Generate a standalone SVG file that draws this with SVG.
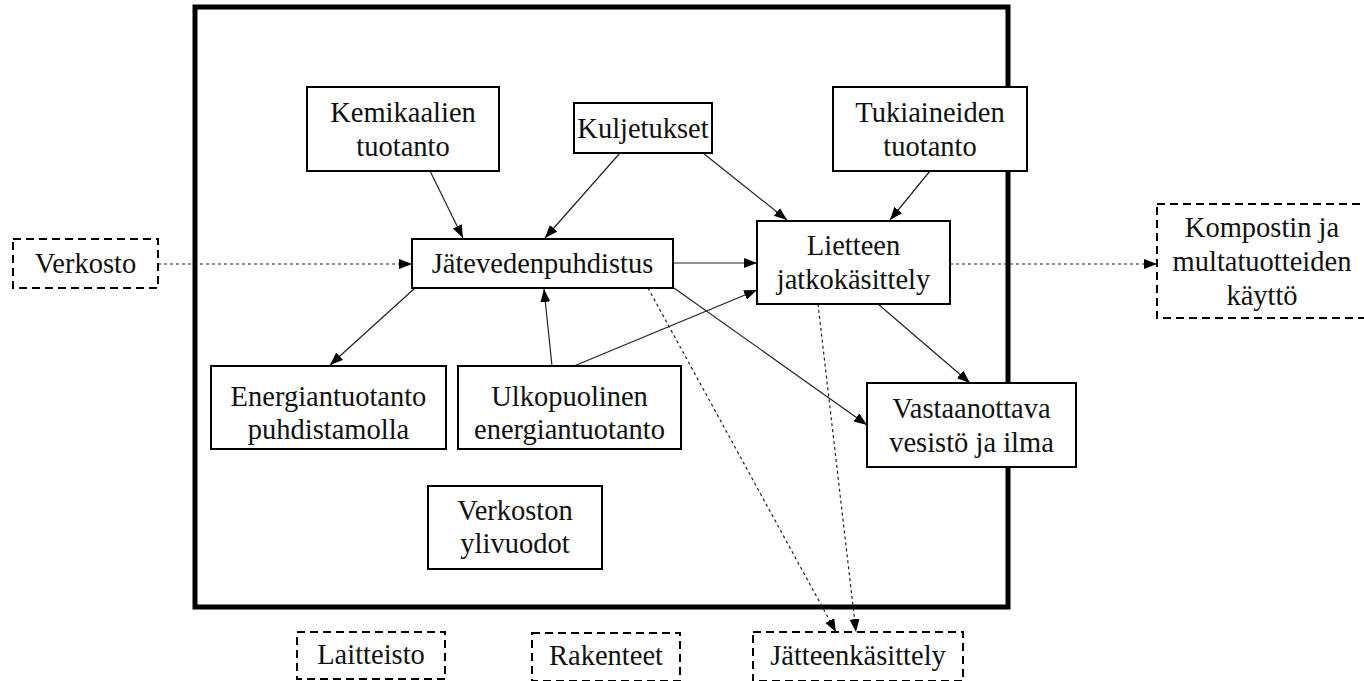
<svg xmlns="http://www.w3.org/2000/svg" width="1364" height="681" viewBox="0 0 1364 681">
<style>
.box{fill:#fff;stroke:#000;stroke-width:2}
.dbox{fill:#fff;stroke:#000;stroke-width:2;stroke-dasharray:8,5}
.frame{fill:none;stroke:#000;stroke-width:5}
text{font-family:"Liberation Serif","Times New Roman",serif;font-size:28.5px;fill:#111;text-anchor:middle}
.c{fill:none;stroke:#222;stroke-width:1.2;marker-end:url(#ah)}
.cd{fill:none;stroke:#222;stroke-width:1.2;stroke-dasharray:3,3;marker-end:url(#ah)}
</style>
<defs>
<marker id="ah" markerUnits="userSpaceOnUse" markerWidth="14" markerHeight="12" refX="13" refY="5" orient="auto">
<path d="M0,0 L13,5 L0,10 z" fill="#000"/>
</marker>
</defs>
<rect width="1364" height="681" fill="#fff"/>
<rect class="frame" x="195" y="7" width="813" height="600"/>
<g id="connectors">
<line class="cd" x1="158" y1="264" x2="412" y2="264"/>
<line class="c" x1="430" y1="171" x2="463" y2="238"/>
<line class="c" x1="620" y1="153" x2="545" y2="238"/>
<line class="c" x1="703" y1="153" x2="787" y2="220"/>
<line class="c" x1="930" y1="171" x2="890" y2="220"/>
<line class="c" x1="673" y1="263" x2="757" y2="263"/>
<line class="c" x1="552" y1="366" x2="544" y2="289"/>
<line class="c" x1="574" y1="366" x2="757" y2="290"/>
<line class="c" x1="415" y1="288" x2="330" y2="365"/>
<line class="c" x1="674" y1="288" x2="867" y2="425"/>
<line class="c" x1="878" y1="304" x2="970" y2="383"/>
<line class="cd" x1="648" y1="288" x2="836" y2="632"/>
<line class="cd" x1="818" y1="304" x2="856" y2="632"/>
<line class="cd" x1="950" y1="264" x2="1157" y2="264"/>
</g>
<g id="verkosto"><rect class="dbox" x="13" y="239" width="145" height="49"/><text x="85.5" y="273">Verkosto</text></g>
<g id="kemikaalien"><rect class="box" x="307" y="87" width="192" height="84"/><text x="403" y="122">Kemikaalien</text><text x="403" y="156">tuotanto</text></g>
<g id="kuljetukset"><rect class="box" x="574" y="103" width="138" height="50"/><text x="643" y="138">Kuljetukset</text></g>
<g id="tukiaineiden"><rect class="box" x="833" y="87" width="194" height="84"/><text x="930" y="122">Tukiaineiden</text><text x="930" y="156">tuotanto</text></g>
<g id="jatevedenpuhdistus"><rect class="box" x="412" y="239" width="261" height="49"/><text x="542.5" y="273">Jätevedenpuhdistus</text></g>
<g id="lietteen"><rect class="box" x="757" y="221" width="193" height="83"/><text x="853.5" y="255">Lietteen</text><text x="853.5" y="289">jatkokäsittely</text></g>
<g id="kompostin"><rect class="dbox" x="1157" y="204" width="210" height="114"/><text x="1262" y="237">Kompostin ja</text><text x="1262" y="271">multatuotteiden</text><text x="1262" y="305">käyttö</text></g>
<g id="energiantuotanto"><rect class="box" x="211" y="366" width="235" height="83"/><text x="328.5" y="406">Energiantuotanto</text><text x="328.5" y="439">puhdistamolla</text></g>
<g id="ulkopuolinen"><rect class="box" x="458" y="366" width="223" height="83"/><text x="569.5" y="406">Ulkopuolinen</text><text x="569.5" y="439">energiantuotanto</text></g>
<g id="vastaanottava"><rect class="box" x="867" y="383" width="209" height="84"/><text x="971.5" y="418">Vastaanottava</text><text x="971.5" y="452">vesistö ja ilma</text></g>
<g id="ylivuodot"><rect class="box" x="428" y="486" width="174" height="83"/><text x="515" y="520">Verkoston</text><text x="515" y="553">ylivuodot</text></g>
<g id="laitteisto"><rect class="dbox" x="297" y="632" width="148" height="47"/><text x="371" y="664">Laitteisto</text></g>
<g id="rakenteet"><rect class="dbox" x="532" y="633" width="148" height="48"/><text x="606" y="665">Rakenteet</text></g>
<g id="jatteenkasittely"><rect class="dbox" x="753" y="632" width="210" height="49"/><text x="858" y="665">Jätteenkäsittely</text></g>
</svg>
